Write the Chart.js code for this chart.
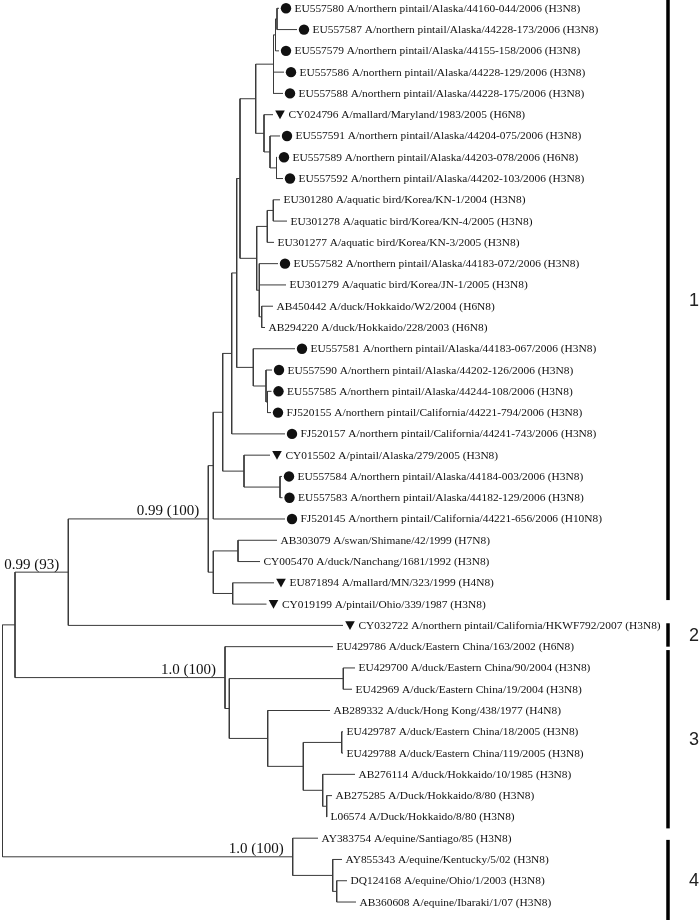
<!DOCTYPE html>
<html>
<head>
<meta charset="utf-8">
<script src="https://cdn.jsdelivr.net/npm/chart.js@4.4.1/dist/chart.umd.min.js"></script>
<style>
  html, body { margin: 0; padding: 0; background: #fff; }
  #wrap { width: 700px; height: 920px; }
</style>
</head>
<body>
<div id="wrap"><canvas id="tree"></canvas></div>
<script>
// leaves, top to bottom (y = leaf index)
const leafNames = [
    'EU557580 A/northern pintail/Alaska/44160-044/2006 (H3N8)',
    'EU557587 A/northern pintail/Alaska/44228-173/2006 (H3N8)',
    'EU557579 A/northern pintail/Alaska/44155-158/2006 (H3N8)',
    'EU557586 A/northern pintail/Alaska/44228-129/2006 (H3N8)',
    'EU557588 A/northern pintail/Alaska/44228-175/2006 (H3N8)',
    'CY024796 A/mallard/Maryland/1983/2005 (H6N8)',
    'EU557591 A/northern pintail/Alaska/44204-075/2006 (H3N8)',
    'EU557589 A/northern pintail/Alaska/44203-078/2006 (H6N8)',
    'EU557592 A/northern pintail/Alaska/44202-103/2006 (H3N8)',
    'EU301280 A/aquatic bird/Korea/KN-1/2004 (H3N8)',
    'EU301278 A/aquatic bird/Korea/KN-4/2005 (H3N8)',
    'EU301277 A/aquatic bird/Korea/KN-3/2005 (H3N8)',
    'EU557582 A/northern pintail/Alaska/44183-072/2006 (H3N8)',
    'EU301279 A/aquatic bird/Korea/JN-1/2005 (H3N8)',
    'AB450442 A/duck/Hokkaido/W2/2004 (H6N8)',
    'AB294220 A/duck/Hokkaido/228/2003 (H6N8)',
    'EU557581 A/northern pintail/Alaska/44183-067/2006 (H3N8)',
    'EU557590 A/northern pintail/Alaska/44202-126/2006 (H3N8)',
    'EU557585 A/northern pintail/Alaska/44244-108/2006 (H3N8)',
    'FJ520155 A/northern pintail/California/44221-794/2006 (H3N8)',
    'FJ520157 A/northern pintail/California/44241-743/2006 (H3N8)',
    'CY015502 A/pintail/Alaska/279/2005 (H3N8)',
    'EU557584 A/northern pintail/Alaska/44184-003/2006 (H3N8)',
    'EU557583 A/northern pintail/Alaska/44182-129/2006 (H3N8)',
    'FJ520145 A/northern pintail/California/44221-656/2006 (H10N8)',
    'AB303079 A/swan/Shimane/42/1999 (H7N8)',
    'CY005470 A/duck/Nanchang/1681/1992 (H3N8)',
    'EU871894 A/mallard/MN/323/1999 (H4N8)',
    'CY019199 A/pintail/Ohio/339/1987 (H3N8)',
    'CY032722 A/northern pintail/California/HKWF792/2007 (H3N8)',
    'EU429786 A/duck/Eastern China/163/2002 (H6N8)',
    'EU429700 A/duck/Eastern China/90/2004 (H3N8)',
    'EU42969 A/duck/Eastern China/19/2004 (H3N8)',
    'AB289332 A/duck/Hong Kong/438/1977 (H4N8)',
    'EU429787 A/duck/Eastern China/18/2005 (H3N8)',
    'EU429788 A/duck/Eastern China/119/2005 (H3N8)',
    'AB276114 A/duck/Hokkaido/10/1985 (H3N8)',
    'AB275285 A/Duck/Hokkaido/8/80 (H3N8)',
    'L06574 A/Duck/Hokkaido/8/80 (H3N8)',
    'AY383754 A/equine/Santiago/85 (H3N8)',
    'AY855343 A/equine/Kentucky/5/02 (H3N8)',
    'DQ124168 A/equine/Ohio/1/2003 (H3N8)',
    'AB360608 A/equine/Ibaraki/1/07 (H3N8)'
];
// c = circle, t = triangle
const leafMarker = ['c','c','c','c','c','t','c','c','c','','','','c','','','','c','c','c','c','c','t','c','c','c','','','t','t','t','','','','','','','','','','','','',''];
const leafDepth = [276.5, 294.5, 276.5, 281.5, 280.5, 270.5, 277.5, 274.5, 280.5, 277.5, 284.5, 271.5, 275.5, 283.5, 270.5, 262.5,
    292.5, 269.5, 269, 268.5, 282.5, 267.5, 279.5, 280, 282.5, 274.5, 257.5, 271.5, 264, 340.5, 330.5, 352.5, 349.5, 327.5,
    340.5, 340.5, 352.5, 329.5, 324.5, 315.5, 339.5, 344.5, 353.5];
const leafParent = [15, 15, 14, 13, 13, 16, 17, 18, 18, 21, 21, 20, 22, 22, 23, 23, 24, 25, 26, 26, 9, 27, 28, 28, 6, 29, 29, 30, 30, 3,
    4, 32, 32, 33, 35, 35, 36, 37, 37, 2, 38, 39, 39];

// internal nodes
const nodeDepth = [0, 12.5, 290.2, 65.8, 222.5, 205.8, 210.8, 210.8, 220.2, 229.2, 234.2, 237.5, 253.2, 271, 273, 274.5, 261.5, 267.5,
    274, 254.2, 264.8, 270.8, 256.8, 259.2, 250.8, 263.5, 265, 241.5, 277.5, 235.5, 230.2, 226.8, 340.8, 265.2, 300.8, 339.2,
    320.2, 324.2, 330.2, 334.2];
const nodeParent = [-1, 0, 0, 1, 1, 3, 5, 5, 6, 8, 9, 10, 11, 12, 13, 14, 12, 16, 17, 11, 19, 20, 19, 22, 10, 24, 25, 8, 27, 7, 7,
    4, 31, 31, 33, 34, 34, 36, 2, 38];

// posterior probability (bootstrap) on branches
const supportNode = [3, 5, 4, 2];
const supportText = ['0.99 (93)', '0.99 (100)', '1.0 (100)', '1.0 (100)'];

// clade brackets, in leaf-index units
const groupLabels = ['1', '2', '3', '4'];
const groupTop = [-0.39, 28.9, 30.16, 39.08];
const groupBottom = [27.81, 30.0, 38.54, 42.85];

// node y = middle of its outermost children
const kids = nodeDepth.map(() => []);
leafParent.forEach((p, i) => kids[p].push({ leaf: i }));
nodeParent.forEach((p, j) => { if (p >= 0) kids[p].push({ node: j }); });
const nodeY = [];
const nodeSpan = [];
function placeNode(j) {
    const ys = kids[j].map(k => k.leaf !== undefined ? k.leaf : placeNode(k.node));
    nodeSpan[j] = [Math.min(...ys), Math.max(...ys)];
    nodeY[j] = (nodeSpan[j][0] + nodeSpan[j][1]) / 2;
    return nodeY[j];
}
placeNode(0);

const branchPts = [];
function seg(x1, y1, x2, y2) {
    branchPts.push({ x: x1, y: y1 }, { x: x2, y: y2 }, { x: null, y: null });
}
leafParent.forEach((p, i) => seg(nodeDepth[p], i, leafDepth[i], i));
nodeParent.forEach((p, j) => { if (p >= 0) seg(nodeDepth[p], nodeY[j], nodeDepth[j], nodeY[j]); });
nodeDepth.forEach((d, j) => seg(d, nodeSpan[j][0], d, nodeSpan[j][1]));

const treeLabels = {
    id: 'treeLabels',
    afterDatasetsDraw(chart) {
        const ctx = chart.ctx;
        const xs = chart.scales.x;
        const ys = chart.scales.y;
        ctx.save();

        // tip markers and names
        ctx.fillStyle = '#111';
        ctx.font = '11.4px "Liberation Serif", "DejaVu Serif", serif';
        ctx.textBaseline = 'middle';
        ctx.textAlign = 'left';
        leafNames.forEach((name, i) => {
            const px = xs.getPixelForValue(leafDepth[i]);
            const py = ys.getPixelForValue(i);
            let tx = px + 3.5;
            if (leafMarker[i] === 'c') {
                ctx.beginPath();
                ctx.arc(px + 7, py, 5.2, 0, Math.PI * 2);
                ctx.fill();
                tx = px + 15.5;
            } else if (leafMarker[i] === 't') {
                ctx.beginPath();
                ctx.moveTo(px + 2.2, py - 4.2);
                ctx.lineTo(px + 11.8, py - 4.2);
                ctx.lineTo(px + 7, py + 4.6);
                ctx.closePath();
                ctx.fill();
                tx = px + 15.5;
            }
            ctx.fillText(name, tx, py + 0.5);
        });

        // support values
        ctx.font = '15px "Liberation Serif", "DejaVu Serif", serif';
        ctx.textAlign = 'right';
        ctx.textBaseline = 'alphabetic';
        supportNode.forEach((n, k) => {
            const px = xs.getPixelForValue(nodeDepth[n]);
            const py = ys.getPixelForValue(nodeY[n]);
            ctx.fillText(supportText[k], px - 9, py - 3.5);
        });

        // group brackets
        const bx = chart.chartArea.right - 32;
        ctx.font = '18px "Liberation Sans", Arial, sans-serif';
        ctx.textAlign = 'center';
        ctx.textBaseline = 'middle';
        groupLabels.forEach((g, k) => {
            const y0 = ys.getPixelForValue(groupTop[k]);
            const y1 = ys.getPixelForValue(groupBottom[k]);
            ctx.fillStyle = '#000';
            ctx.fillRect(bx - 1.75, y0, 3.5, y1 - y0);
            ctx.fillStyle = '#222';
            ctx.fillText(g, bx + 26, (y0 + y1) / 2 + 1);
        });
        ctx.restore();
    }
};

new Chart(document.getElementById('tree'), {
    type: 'scatter',
    data: {
        datasets: [{
            label: 'branches',
            data: branchPts,
            showLine: true,
            spanGaps: false,
            borderColor: '#3a3a3a',
            borderWidth: 1,
            pointRadius: 0,
            pointHoverRadius: 0,
            tension: 0
        }]
    },
    options: {
        responsive: true,
        maintainAspectRatio: false,
        animation: false,
        events: [],
        layout: { padding: 0 },
        scales: {
            x: { type: 'linear', display: false, min: -2.5, max: 697.5 },
            y: { type: 'linear', display: false, reverse: true, min: -0.39, max: 42.845 }
        },
        plugins: {
            legend: { display: false },
            tooltip: { enabled: false }
        }
    },
    plugins: [treeLabels]
});
</script>
</body>
</html>
